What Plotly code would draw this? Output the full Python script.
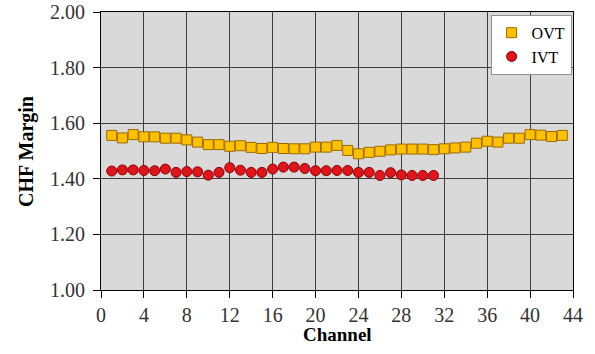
import plotly.graph_objects as go

ovt_channel = list(range(1, 44))
ovt_margin = [1.556, 1.547, 1.559, 1.551, 1.551, 1.546, 1.546, 1.540, 1.532, 1.523,
              1.523, 1.517, 1.519, 1.513, 1.509, 1.513, 1.509, 1.508, 1.508, 1.514,
              1.514, 1.520, 1.502, 1.490, 1.495, 1.499, 1.504, 1.507, 1.507, 1.507,
              1.505, 1.508, 1.511, 1.514, 1.528, 1.535, 1.532, 1.546, 1.546, 1.559,
              1.557, 1.552, 1.556]

ivt_channel = list(range(1, 32))
ivt_margin = [1.428, 1.432, 1.432, 1.430, 1.429, 1.435, 1.423, 1.426, 1.425, 1.413,
              1.423, 1.440, 1.431, 1.423, 1.423, 1.435, 1.442, 1.442, 1.437, 1.429,
              1.429, 1.430, 1.430, 1.423, 1.423, 1.412, 1.422, 1.414, 1.412, 1.412,
              1.412]

x_ticks = list(range(0, 45, 4))
y_ticks = [1.0, 1.2, 1.4, 1.6, 1.8, 2.0]
x_labels = [str(v) for v in x_ticks]
y_labels = ["%.2f" % v for v in y_ticks]

serif = "Liberation Serif"

fig = go.Figure()
fig.add_trace(go.Scatter(
    x=ovt_channel, y=ovt_margin, mode="markers", name="OVT",
    marker=dict(symbol="square", size=10, color="#FFC000",
                line=dict(color="#9A6A00", width=1)),
))
fig.add_trace(go.Scatter(
    x=ivt_channel, y=ivt_margin, mode="markers", name="IVT",
    marker=dict(symbol="circle", size=10, color="#E0141B",
                line=dict(color="#8B0000", width=1)),
))

axis_common = dict(
    showline=True, linecolor="#000000", linewidth=1, mirror=True,
    showgrid=True, gridcolor="#3c3c3c", gridwidth=1,
    ticks="outside", ticklen=7, tickcolor="#000000", tickwidth=1,
    tickfont=dict(size=20, color="#333333"),
    zeroline=False, automargin=False,
)

fig.update_layout(
    width=595, height=354,
    margin=dict(l=101, r=22, t=12, b=64),
    paper_bgcolor="white",
    plot_bgcolor="#d9d9d9",
    font=dict(family=serif, size=18, color="#333333"),
    xaxis=dict(range=[0, 44], tickvals=x_ticks, ticktext=x_labels, **axis_common),
    yaxis=dict(range=[1.0, 2.0], tickvals=y_ticks, ticktext=y_labels,
               ticklabelstandoff=4, **axis_common),
    legend=dict(x=0.997, y=0.99, xanchor="right", yanchor="top",
                bgcolor="white", bordercolor="#909090", borderwidth=1,
                font=dict(size=16, color="#000000"),
                itemwidth=30, tracegroupgap=0),
    showlegend=True,
    annotations=[
        dict(text="<b>Channel</b>", xref="paper", yref="paper", x=0.5, y=-0.16,
             xanchor="center", yanchor="middle", showarrow=False,
             font=dict(size=19, color="#000000")),
        dict(text="<b>CHF Margin</b>", xref="paper", yref="paper", x=-0.159, y=0.5,
             xanchor="center", yanchor="middle", textangle=-90, showarrow=False,
             font=dict(size=20, color="#000000")),
    ],
)

fig.write_html("out.html")
